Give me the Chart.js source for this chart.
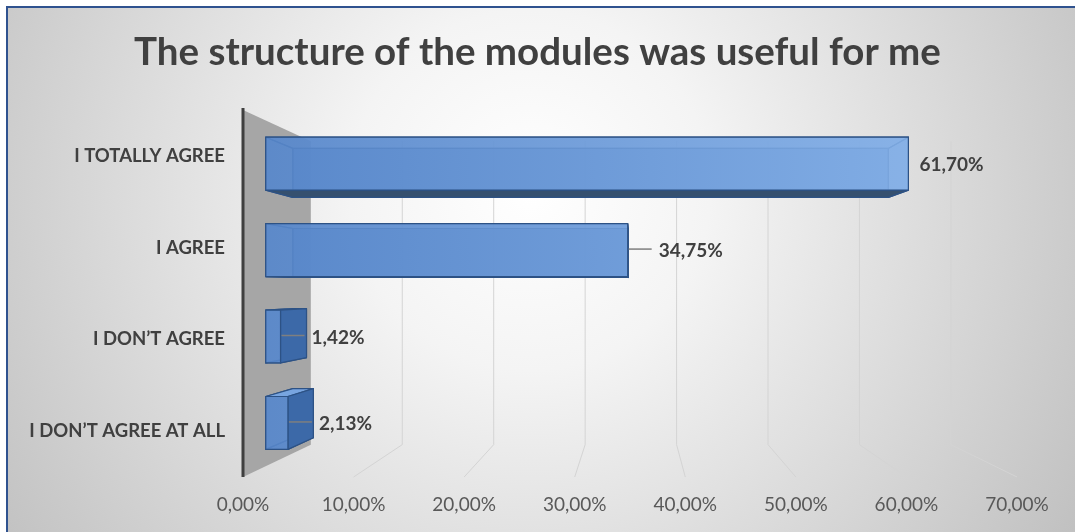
<!DOCTYPE html>
<html lang="en">
<head>
<meta charset="UTF-8">
<title>The structure of the modules was useful for me</title>
<script src="https://cdn.jsdelivr.net/npm/chart.js"></script>
<style>
  body { margin: 0; background: #fff; }
  canvas { display: block; }
</style>
</head>
<body>
<canvas id="surveyChart" width="1075" height="532"></canvas>
<script>
const answers = ['I TOTALLY AGREE', 'I AGREE', 'I DON\u2019T AGREE', 'I DON\u2019T AGREE AT ALL'];
const shares = [61.70, 34.75, 1.42, 2.13];
const axisTicks = [0, 10, 20, 30, 40, 50, 60, 70];

// fake 3D: the chart area is the front plane, deeper planes shrink toward a vanishing point
const vanish = { x: 635, y: 290 };
const depth = { barFront: 0.942, barBack: 0.873, wall: 0.827 };
// bars whose value label is pushed out and tied back with a leader line
const leaders = [false, true, true, true];

const fmt = v => v.toFixed(2).replace('.', ',') + '%';

function project(x, y, s) {
  return [vanish.x + s * (x - vanish.x), vanish.y + s * (y - vanish.y)];
}

function poly(ctx, pts, fill, stroke) {
  ctx.beginPath();
  ctx.moveTo(pts[0][0], pts[0][1]);
  for (let i = 1; i < pts.length; i++) ctx.lineTo(pts[i][0], pts[i][1]);
  ctx.closePath();
  if (fill) { ctx.fillStyle = fill; ctx.fill(); }
  if (stroke) { ctx.strokeStyle = stroke; ctx.stroke(); }
}

const backdrop = {
  id: 'backdrop',
  afterLayout(chart) {
    // centre the title on the whole canvas, not on the padded box
    const t = chart.titleBlock;
    if (t) { t.left = 0; t.right = chart.width; }
  },
  beforeDraw(chart) {
    const { ctx, width, height } = chart;
    ctx.save();
    ctx.fillStyle = '#fff';
    ctx.fillRect(0, 0, width, height);
    const g = ctx.createRadialGradient(530, 190, 0, 530, 190, 720);
    g.addColorStop(0, '#ffffff');
    g.addColorStop(0.25, '#f4f4f4');
    g.addColorStop(1, '#b8b8b8');
    ctx.fillStyle = g;
    ctx.fillRect(7, 7, width - 7, height - 7);
    // frame
    ctx.fillStyle = '#2f528f';
    ctx.fillRect(6, 6, width - 6, 2);
    ctx.fillRect(6, 6, 2, height - 6);
    ctx.restore();
  }
};

const scene = {
  id: 'scene',
  beforeDatasetsDraw(chart) {
    const { ctx, chartArea: a, scales: { x } } = chart;
    const s = depth.wall;
    ctx.save();
    // side wall
    const [wx, wy1] = project(a.left, a.top, s);
    const [, wy2] = project(a.left, a.bottom, s);
    poly(ctx, [[a.left, a.top], [wx, wy1], [wx, wy2], [a.left, a.bottom]], '#a6a6a6');
    // back wall gridlines running down and out across the floor
    ctx.strokeStyle = '#d4d4d4';
    ctx.lineWidth = 1;
    axisTicks.forEach(v => {
      if (!v) return;
      const px = x.getPixelForValue(v);
      const [gx, gy1] = project(px, a.top, s);
      const [, gy2] = project(px, a.bottom, s);
      ctx.beginPath();
      ctx.moveTo(gx, gy1);
      ctx.lineTo(gx, gy2);
      ctx.lineTo(px, a.bottom);
      ctx.stroke();
    });
    // category axis
    ctx.strokeStyle = '#3f3f3f';
    ctx.lineWidth = 3;
    ctx.beginPath();
    ctx.moveTo(a.left, a.top - 2);
    ctx.lineTo(a.left, a.bottom);
    ctx.stroke();
    ctx.restore();
  },
  afterDatasetsDraw(chart) {
    const { ctx, chartArea: a, scales: { x } } = chart;
    const meta = chart.getDatasetMeta(0);
    const x0 = x.getPixelForValue(0);
    const grad = ctx.createLinearGradient(a.left, 0, a.right, 0);
    grad.addColorStop(0, 'rgba(86,134,202,0.88)');
    grad.addColorStop(1, 'rgba(140,184,238,0.88)');
    const edge = '#2d5285';

    ctx.save();
    ctx.lineWidth = 1.2;
    ctx.lineJoin = 'round';
    meta.data.forEach(bar => {
      const top = bar.y - bar.height / 2;
      const bottom = bar.y + bar.height / 2;
      const corners = s => [
        project(x0, top, s), project(bar.x, top, s),
        project(bar.x, bottom, s), project(x0, bottom, s)
      ];
      const f = corners(depth.barFront);
      const b = corners(depth.barBack);
      const faces = [
        { pts: [f[0], f[1], b[1], b[0]], show: top > vanish.y, color: '#78a5e0' },
        { pts: [f[3], f[2], b[2], b[3]], show: bottom < vanish.y, color: '#35506f' },
        { pts: [f[1], f[2], b[2], b[1]], show: bar.x < vanish.x, color: '#3c69a8' },
        { pts: [f[0], f[3], b[3], b[0]], show: x0 > vanish.x, color: '#3c69a8' }
      ];
      poly(ctx, b, 'rgba(78,122,188,0.85)', edge);
      faces.filter(fc => !fc.show).forEach(fc => poly(ctx, fc.pts, 'rgba(96,140,204,0.5)', edge));
      faces.filter(fc => fc.show).forEach(fc => poly(ctx, fc.pts, fc.color, edge));
      poly(ctx, f, grad, edge);
    });

    // value labels
    ctx.font = 'bold 19px Lato';
    ctx.textBaseline = 'middle';
    ctx.textAlign = 'left';
    meta.data.forEach((bar, i) => {
      const [fx, fy] = project(bar.x, bar.y, depth.barFront);
      if (leaders[i]) {
        ctx.strokeStyle = '#7f7f7f';
        ctx.lineWidth = 1.5;
        ctx.beginPath();
        ctx.moveTo(fx + 1, fy - 1);
        ctx.lineTo(fx + 24, fy - 1);
        ctx.stroke();
      }
      ctx.fillStyle = '#404040';
      ctx.fillText(fmt(shares[i]), fx + (leaders[i] ? 31 : 11), fy + 1);
    });
    ctx.restore();
  }
};

new Chart(document.getElementById('surveyChart'), {
  type: 'bar',
  data: {
    labels: answers,
    datasets: [{
      data: shares,
      backgroundColor: 'rgba(0,0,0,0)',
      borderWidth: 0,
      categoryPercentage: 1,
      barPercentage: 0.612
    }]
  },
  options: {
    indexAxis: 'y',
    responsive: false,
    animation: false,
    layout: { padding: { left: 0, right: 58, top: 0, bottom: 0 } },
    plugins: {
      legend: { display: false },
      tooltip: { enabled: false },
      title: {
        display: true,
        text: 'The structure of the modules was useful for me',
        color: '#404040',
        font: { family: 'Lato', size: 38.5, weight: 'bold', lineHeight: 1.2 },
        padding: { top: 29, bottom: 34.8 }
      }
    },
    scales: {
      x: {
        min: 0,
        max: 70,
        afterFit: s => { s.height = 55; },
        afterBuildTicks: s => { s.ticks = axisTicks.map(v => ({ value: v })); },
        grid: { display: false, drawTicks: false },
        border: { display: false },
        ticks: {
          padding: 16,
          color: '#595959',
          font: { family: 'Lato', size: 19 },
          callback: v => fmt(v)
        }
      },
      y: {
        afterFit: s => { s.width = 243; },
        grid: { display: false, drawTicks: false },
        border: { display: false },
        ticks: {
          padding: 18,
          color: '#404040',
          font: { family: 'Lato', size: 18.5, weight: 'bold' }
        }
      }
    }
  },
  plugins: [backdrop, scene]
});
</script>
</body>
</html>
